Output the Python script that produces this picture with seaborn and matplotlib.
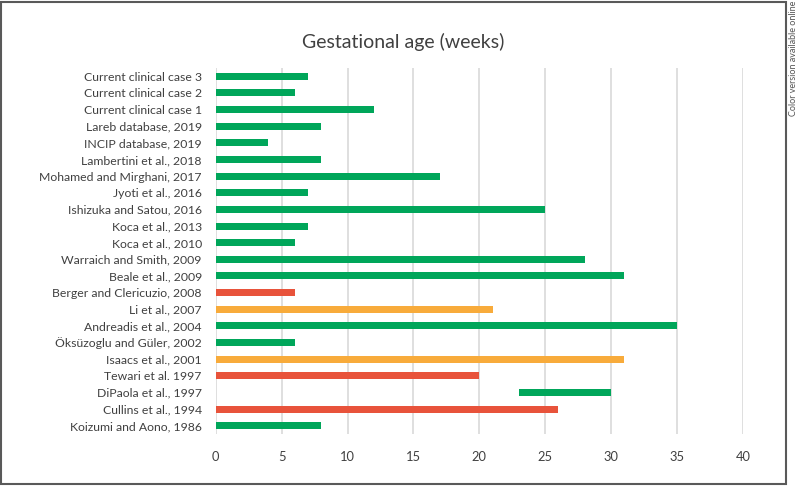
import matplotlib
matplotlib.use('Agg')
import matplotlib.pyplot as plt
from matplotlib.patches import Rectangle
import seaborn as sns
import pandas as pd

studies = [
    "Current clinical case 3",
    "Current clinical case 2",
    "Current clinical case 1",
    "Lareb database, 2019",
    "INCIP database, 2019",
    "Lambertini et al., 2018",
    "Mohamed and Mirghani, 2017",
    "Jyoti et al., 2016",
    "Ishizuka and Satou, 2016",
    "Koca et al., 2013",
    "Koca et al., 2010",
    "Warraich and Smith, 2009",
    "Beale et al., 2009",
    "Berger and Clericuzio, 2008",
    "Li et al., 2007",
    "Andreadis et al., 2004",
    "Öksüzoglu and Güler, 2002",
    "Isaacs et al., 2001",
    "Tewari et al. 1997",
    "DiPaola et al., 1997",
    "Cullins et al., 1994",
    "Koizumi and Aono, 1986",
]
starts = [0, 0, 0, 0, 0, 0, 0, 0, 0, 0, 0, 0, 0, 0, 0, 0, 0, 0, 0, 23, 0, 0]
ends = [7, 6, 12, 8, 4, 8, 17, 7, 25, 7, 6, 28, 31, 6, 21, 35, 6, 31, 20, 30, 26, 8]
groups = ["green", "green", "green", "green", "green", "green", "green", "green",
          "green", "green", "green", "green", "green", "red", "orange", "green",
          "green", "orange", "red", "green", "red", "green"]
xticks = [0, 5, 10, 15, 20, 25, 30, 35, 40]
title = "Gestational age (weeks)"
side_note = "Color version available online"

palette = {"green": "#00A65A", "red": "#E8533B", "orange": "#F8AB3B"}

sns.set_theme(style="white")
plt.rcParams["font.family"] = ["Lato", "DejaVu Sans"]

W, H = 798, 486
fig = plt.figure(figsize=(W / 100, H / 100), dpi=100)
ax = fig.add_axes([215.7 / W, 1 - 434 / H, (743 - 215.7) / W, (434 - 68) / H])

df = pd.DataFrame({"study": studies, "start": starts, "end": ends, "group": groups})
df["length"] = df["end"] - df["start"]
based = df[df["start"] == 0]
floating = df[df["start"] > 0]

sns.barplot(data=based, x="length", y="study", hue="group", palette=palette,
            order=studies, dodge=False, width=0.42, legend=False, ax=ax,
            saturation=1, linewidth=0)
for _, r in floating.iterrows():
    ax.barh(studies.index(r["study"]), r["length"], left=r["start"], height=0.42,
            color=palette[r["group"]], linewidth=0)

ax.set_xlim(0, 40)
ax.set_ylim(len(studies) - 0.5, -0.5)
ax.set_xticks(xticks)
ax.set_xticklabels([str(t) for t in xticks])
ax.xaxis.grid(True, color="#d9d9d9", linewidth=1.2)
ax.yaxis.grid(False)
ax.set_axisbelow(True)
for s in ax.spines.values():
    s.set_visible(False)
ax.set_xlabel("")
ax.set_ylabel("")
ax.tick_params(axis="x", length=0, pad=12, labelsize=9.3, labelcolor="#404040")
ax.tick_params(axis="y", length=0, pad=10, labelsize=8.8, labelcolor="#404040")

fig.text(403 / W, 1 - 42 / H, title, fontsize=14, ha="center", va="center", color="#404040")
fig.text(793 / W, 1 - 58 / H, side_note, rotation=90, fontsize=6.5, ha="center",
         va="center", color="#555555")
fig.add_artist(Rectangle((1 / W, 2 / H), (786 - 1) / W, (484 - 2) / H,
                         transform=fig.transFigure, fill=False, edgecolor="#595959",
                         linewidth=1.5))

fig.savefig("out.png", dpi=100)
